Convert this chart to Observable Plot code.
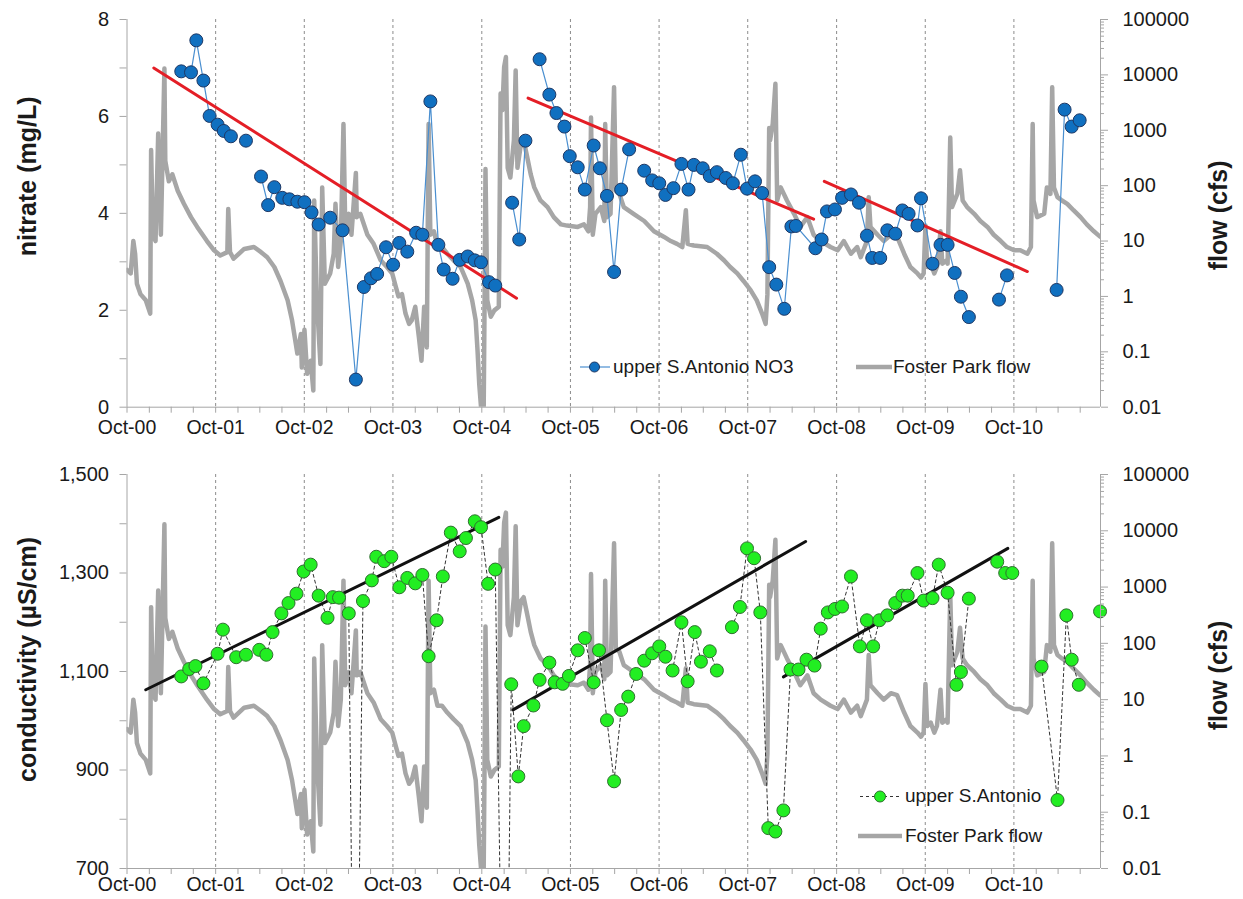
<!DOCTYPE html>
<html><head><meta charset="utf-8">
<script src="https://cdn.jsdelivr.net/npm/d3@7"></script>
<script src="https://cdn.jsdelivr.net/npm/@observablehq/plot@0.6"></script>
<style>
body{margin:0;background:#fff;}
#wrap{position:relative;width:1243px;height:899px;overflow:hidden;font-family:"Liberation Sans",Arial,sans-serif;color:#1a1a1a;}
#top,#bot{position:absolute;left:0;}
#top{top:0}
#bot{top:440px}
.lg{position:absolute;font-size:19px;line-height:22px;white-space:nowrap;}
.sw{position:absolute;overflow:visible;}
</style></head><body>
<div id="wrap">
  <div id="top"></div><div id="bot"></div>
  <svg class="sw" style="left:580px;top:360px" width="32" height="14"><line x1="0" y1="7" x2="30" y2="7" stroke="#4A8FD0" stroke-width="1.2"/><circle cx="14.5" cy="7" r="5" fill="#1070C0" stroke="#1F3864"/></svg>
  <div class="lg" style="left:613px;top:356px">upper S.Antonio NO3</div>
  <svg class="sw" style="left:856px;top:360px" width="36" height="14"><line x1="0" y1="7" x2="36" y2="7" stroke="#A6A6A6" stroke-width="4.5"/></svg>
  <div class="lg" style="left:893px;top:356px">Foster Park flow</div>
  <svg class="sw" style="left:860px;top:789px" width="44" height="15"><line x1="0" y1="7.5" x2="42" y2="7.5" stroke="#333" stroke-width="1" stroke-dasharray="3,3"/><circle cx="20" cy="7.5" r="5.5" fill="#22EE22" stroke="#2F6F2F"/></svg>
  <div class="lg" style="left:905px;top:785px">upper S.Antonio</div>
  <svg class="sw" style="left:858px;top:829px" width="44" height="14"><line x1="0" y1="7" x2="44" y2="7" stroke="#A6A6A6" stroke-width="4.5"/></svg>
  <div class="lg" style="left:905px;top:825px">Foster Park flow</div>
</div>
<script>
// ---------- data (decimal years) ----------
const flowYear = [2000.75,2000.79,2000.82,2000.84,2000.86,2000.90,2000.96,2001.01,2001.02,2001.04,2001.07,2001.10,2001.13,2001.17,2001.18,2001.22,2001.26,2001.32,2001.39,2001.47,2001.54,2001.65,2001.73,2001.80,2001.88,2001.89,2001.91,2001.95,2002.07,2002.18,2002.26,2002.33,2002.41,2002.48,2002.56,2002.61,2002.67,2002.71,2002.72,2002.75,2002.78,2002.82,2002.85,2002.86,2002.89,2002.93,2002.95,2002.98,2003.04,2003.08,2003.10,2003.13,2003.16,2003.19,2003.21,2003.25,2003.28,2003.33,2003.34,2003.38,2003.46,2003.53,2003.61,2003.68,2003.74,2003.78,2003.81,2003.85,2003.89,2003.93,2003.96,2004.00,2004.04,2004.07,2004.10,2004.13,2004.15,2004.17,2004.21,2004.25,2004.30,2004.36,2004.43,2004.51,2004.59,2004.64,2004.68,2004.70,2004.72,2004.74,2004.77,2004.78,2004.79,2004.81,2004.85,2004.89,2004.94,2004.96,2004.98,2005.00,2005.02,2005.04,2005.07,2005.11,2005.13,2005.15,2005.19,2005.22,2005.26,2005.30,2005.34,2005.41,2005.49,2005.56,2005.64,2005.71,2005.83,2005.90,2005.95,2005.97,2005.98,2006.00,2006.03,2006.09,2006.13,2006.14,2006.16,2006.20,2006.24,2006.26,2006.30,2006.35,2006.46,2006.58,2006.69,2006.80,2006.88,2006.95,2007.01,2007.05,2007.07,2007.14,2007.29,2007.40,2007.48,2007.55,2007.63,2007.70,2007.78,2007.85,2007.91,2007.95,2007.97,2007.99,2008.00,2008.03,2008.06,2008.08,2008.12,2008.19,2008.27,2008.34,2008.42,2008.49,2008.57,2008.68,2008.76,2008.83,2008.91,2008.98,2009.02,2009.09,2009.11,2009.13,2009.21,2009.28,2009.36,2009.43,2009.51,2009.58,2009.66,2009.70,2009.73,2009.75,2009.77,2009.81,2009.85,2009.88,2009.92,2009.94,2009.99,2010.00,2010.03,2010.05,2010.11,2010.14,2010.17,2010.22,2010.30,2010.37,2010.45,2010.52,2010.60,2010.67,2010.75,2010.82,2010.90,2010.94,2010.96,2010.97,2011.01,2011.09,2011.12,2011.16,2011.18,2011.20,2011.24,2011.29,2011.35,2011.42,2011.50,2011.57,2011.65,2011.72];
const flowCfs = [3.0,2.6,10,5.9,1.7,1.1,0.85,0.49,440,13,10,870,13,13000,280,120,160,81,47,27,18,10,6.8,5.5,6.3,38,6.3,4.8,7.2,7.8,6.3,5.1,3.4,1.9,0.85,0.37,0.093,0.21,0.052,0.25,0.04,0.069,0.02,54,0.85,0.06,93,1.7,2.6,5.9,47,3.4,10,1300,18,31,13,170,27,31,13,8.9,4.5,3.4,2.6,1.5,1.0,1.1,0.49,0.32,0.37,0.65,0.19,0.069,0.65,0.12,1300,13,15,7.8,7.8,5.9,4.5,3.4,1.7,0.85,0.37,0.11,0.026,0.01,0.01,0.85,200,0.85,0.43,0.56,0.65,4600,2300,14000,21000,210,140,660,12000,210,570,660,330,160,93,54,41,27,20,19,18,20,15,41,1700,13,31,41,23,1300,27,31,6000,81,71,41,31,23,15,12,10,8.9,7.8,36,8.9,8.3,7.8,5.9,4.5,3.4,2.6,1.9,1.3,0.85,0.49,0.32,1.1,1100,660,1300,6900,54,93,54,31,18,27,13,10,7.8,6.8,10,5.9,7.8,5.1,10,62,18,13,10,13,12,5.9,3.4,2.6,2.2,2.6,19,3.4,3.9,2.6,3.4,15,3.9,4.5,3.9,740,41,71,190,54,41,31,23,18,13,10,7.8,6.8,6.8,5.9,7.8,1300,54,27,31,93,71,6000,93,62,54,47,36,27,20,15,12];

// nitrate (mg/L); null = break in the connecting line
const no3Year = [2001.36,2001.47,2001.53,2001.61,2001.68,2001.77,2001.84,2001.92,null,2002.09,null,2002.26,2002.34,2002.41,2002.50,2002.58,2002.67,2002.75,2002.83,2002.91,2003.04,2003.18,2003.33,2003.42,2003.50,2003.57,2003.67,2003.75,2003.82,2003.91,2004.01,2004.08,2004.17,2004.26,2004.32,2004.42,2004.50,2004.59,2004.67,2004.74,2004.83,2004.90,null,2005.09,2005.17,2005.24,null,2005.40,2005.51,2005.59,2005.68,2005.74,2005.83,2005.91,2006.01,2006.08,2006.16,2006.24,2006.32,2006.41,null,2006.58,2006.67,2006.75,2006.82,2006.91,2007.00,2007.08,2007.14,2007.24,2007.32,2007.40,2007.50,2007.58,2007.67,2007.74,2007.83,2007.91,2007.99,2008.07,2008.16,2008.24,2008.29,2008.51,2008.58,2008.64,2008.73,2008.81,2008.91,2009.00,2009.09,2009.15,2009.24,2009.32,2009.41,2009.49,2009.56,2009.66,2009.70,2009.83,2009.92,2010.00,2010.08,2010.15,2010.24,null,2010.58,2010.67,null,2011.23,2011.32,2011.40,2011.49];
const no3Value = [6.93,6.91,7.57,6.74,6.01,5.83,5.70,5.59,null,5.50,null,4.76,4.17,4.54,4.32,4.29,4.24,4.23,4.02,3.77,3.91,3.65,0.57,2.48,2.66,2.75,3.30,2.94,3.39,3.21,3.60,3.56,6.31,3.35,2.84,2.65,3.04,3.11,3.03,2.99,2.58,2.51,null,4.22,3.46,5.50,null,7.18,6.45,6.07,5.79,5.18,4.95,4.49,5.40,4.93,4.36,2.79,4.49,5.32,null,4.88,4.68,4.62,4.38,4.52,5.02,4.49,5.00,4.93,4.77,4.85,4.73,4.62,5.21,4.51,4.66,4.42,2.89,2.53,2.03,3.73,3.74,3.28,3.46,4.04,4.08,4.32,4.39,4.22,3.54,3.08,3.08,3.65,3.58,4.06,3.99,3.75,4.31,2.96,3.35,3.35,2.77,2.28,1.86,null,2.22,2.72,null,2.42,6.14,5.79,5.92];
const no3TrendYear = [2001.05,2005.14, 2005.27,2008.49, 2008.61,2010.90];
const no3TrendValue = [7.00,2.25, 6.38,3.88, 4.66,2.80];

// conductivity (µS/cm); 0 = off-scale low value
const condYear = [2001.36,2001.45,2001.52,2001.61,2001.77,2001.83,2001.98,2002.09,2002.24,2002.32,2002.39,2002.49,2002.57,2002.66,2002.74,2002.82,2002.91,2003.01,2003.07,2003.14,2003.25,2003.32,2003.41,2003.51,2003.56,2003.65,2003.73,2003.82,2003.91,2004.00,2004.08,2004.15,2004.24,2004.31,2004.40,2004.50,2004.57,2004.67,2004.74,2004.82,2004.90,2005.01,2005.08,2005.16,2005.22,2005.33,2005.40,2005.51,2005.57,2005.66,2005.73,2005.83,2005.91,2006.01,2006.07,2006.16,2006.24,2006.32,2006.40,2006.49,2006.58,2006.67,2006.75,2006.82,2006.90,2007.00,2007.07,2007.15,2007.22,2007.32,2007.40,null,2007.57,2007.66,2007.74,2007.82,2007.89,2007.98,2008.06,2008.15,2008.23,2008.32,2008.41,2008.50,2008.57,2008.65,2008.73,2008.81,2008.91,2009.01,2009.09,2009.16,2009.23,2009.32,2009.41,2009.49,2009.55,2009.66,2009.73,2009.83,2009.90,2010.00,2010.10,2010.15,2010.24,null,2010.56,2010.65,2010.73,null,2011.06,2011.24,2011.34,2011.40,2011.48,null,2011.72];
const condValue = [1090,1105,1111,1076,1136,1185,1129,1134,1144,1134,1180,1218,1239,1258,1303,1317,1254,1209,1251,1250,1218,0,1243,1285,1333,1324,1333,1271,1290,1279,1296,1131,1204,1293,1382,1344,1371,1405,1393,1278,1307,0,1074,887,989,1031,1083,1118,1078,1075,1091,1143,1168,1078,1143,1001,877,1022,1049,1095,1122,1137,1151,1130,1102,1200,1080,1180,1120,1141,1102,null,1190,1231,1350,1330,1220,782,775,818,1104,1104,1124,1112,1187,1220,1227,1232,1293,1151,1204,1151,1204,1214,1239,1254,1254,1300,1244,1249,1317,1260,1073,1099,1248,null,1323,1300,1300,null,1110,839,1214,1124,1073,null,1222];
const condTrendYear = [2000.96,2004.94, 2005.10,2008.40, 2008.15,2010.68];
const condTrendValue = [1063,1413, 1022,1364, 1089,1350];

const flowDecades = [0.01,0.1,1,10,100,1000,10000,100000];

// ---------- helpers ----------
function toDate(v){ if(v==null) return null; const y=Math.floor(v); const a=Date.UTC(y,0,1), b=Date.UTC(y+1,0,1); return new Date(a+(v-y)*(b-a)); }
const xStart = new Date(Date.UTC(2000,9,1));
const xEnd = toDate(2011.725);
const quarters = d3.utcMonth.every(3).range(xStart, xEnd);
const octs = quarters.filter(d => d.getUTCMonth()===9);
const fmtX = d3.utcFormat("%b-%y");

const flowRows = flowYear.map((y,i)=>({date:toDate(y), log:Math.log10(flowCfs[i])}));
const no3Rows = no3Year.map((y,i)=>({date:toDate(y), v:no3Value[i]}));
const condRows = condYear.map((y,i)=>({date:toDate(y), v:condValue[i]}));
const trendRows = (ys,vs)=>ys.map((y,i)=>({date:toDate(y), v:vs[i], seg:Math.floor(i/2)}));
const minorLogs = [];
for (let k=-2;k<5;k++) for (let m=2;m<10;m++) minorLogs.push(Math.log10(m)+k);

const AX = "#A6A6A6", TX = "#1a1a1a";

function panel({height, mTop, mBottom, yDomain, yTicks, yLabelFn, leftTitle, leftDy, rightDy, xPad, dataMarks}) {
  const [y0,y1] = yDomain;
  const fy = L => y0 + (L+2)*(y1-y0)/7;   // map log10(flow) onto the left scale
  return Plot.plot({
    width: 1243, height,
    marginLeft: 126.5, marginRight: 143, marginTop: mTop, marginBottom: mBottom,
    style: {fontFamily: '"Liberation Sans", Arial, sans-serif', fontSize: "20px", background: "#fff", color: TX, overflow: "visible"},
    x: {type: "utc", domain: [xStart, xEnd]},
    y: {domain: yDomain},
    marks: [
      Plot.ruleX(octs.slice(1), {stroke: "#8c8c8c", strokeWidth: 1, strokeDasharray: "3,3"}),
      Plot.line(flowRows, {x: "date", y: d => fy(d.log), stroke: "#A6A6A6", strokeWidth: 4.5, strokeLinejoin: "round", clip: true}),
      ...dataMarks,
      Plot.ruleX([xStart], {stroke: AX}),
      Plot.ruleX([xEnd], {stroke: AX}),
      Plot.ruleY([y0], {stroke: AX}),
      Plot.axisX(quarters, {anchor: "bottom", tickSize: 6, tickPadding: xPad, stroke: AX, fill: TX, label: null, fontSize: 19.5,
        tickFormat: d => d.getUTCMonth()===9 ? fmtX(d) : ""}),
      Plot.axisY(yTicks, {anchor: "left", tickSize: 7, tickPadding: 11, stroke: AX, fill: TX, label: null, tickFormat: yLabelFn}),
      Plot.axisY(flowDecades.map(f => fy(Math.log10(f))), {anchor: "right", tickSize: 7, tickPadding: 15, stroke: AX, fill: TX, label: null,
        tickFormat: d => String(flowDecades[Math.round((d-y0)*7/(y1-y0))])}),
      Plot.axisY(minorLogs.map(fy), {anchor: "right", tickSize: 3, stroke: AX, label: null, tickFormat: () => ""}),
      Plot.text([leftTitle], {frameAnchor: "left", textAnchor: "middle", dx: -99, dy: leftDy, rotate: -90, fontSize: 25, fontWeight: "bold", fill: TX}),
      Plot.text(["flow (cfs)"], {frameAnchor: "right", textAnchor: "middle", dx: 118, dy: rightDy, rotate: -90, fontSize: 25, fontWeight: "bold", fill: TX})
    ]
  });
}

const topMarks = [
  Plot.line(no3Rows, {x: "date", y: "v", stroke: "#4A8FD0", strokeWidth: 1.2}),
  Plot.line(trendRows(no3TrendYear, no3TrendValue), {x: "date", y: "v", z: "seg", stroke: "#E41E26", strokeWidth: 3}),
  Plot.dot(no3Rows.filter(d => d.v != null), {x: "date", y: "v", r: 6.5, fill: "#1070C0", stroke: "#1F3864", strokeWidth: 1})
];
const botMarks = [
  Plot.line(condRows, {x: "date", y: "v", stroke: "#333", strokeWidth: 1, strokeDasharray: "3,3", clip: true}),
  Plot.line(trendRows(condTrendYear, condTrendValue), {x: "date", y: "v", z: "seg", stroke: "#111", strokeWidth: 3}),
  Plot.dot(condRows.filter(d => d.v != null && d.v >= 700), {x: "date", y: "v", r: 6.5, fill: "#22EE22", stroke: "#2F6F2F", strokeWidth: 1})
];

document.getElementById("top").appendChild(panel({
  height: 440, mTop: 19, mBottom: 33.3, yDomain: [0, 8],
  yTicks: d3.range(0, 9), yLabelFn: d => d % 2 === 0 ? String(d) : "",
  leftTitle: "nitrate (mg/L)", leftDy: -37, rightDy: 2, xPad: 7, dataMarks: topMarks
}));
document.getElementById("bot").appendChild(panel({
  height: 459, mTop: 34, mBottom: 31, yDomain: [700, 1500],
  yTicks: d3.range(700, 1501, 100), yLabelFn: d => d % 200 === 100 ? d3.format(",")(d) : "",
  leftTitle: "conductivity (µS/cm)", leftDy: -12, rightDy: 4, xPad: 3, dataMarks: botMarks
}));
</script>
</body></html>
